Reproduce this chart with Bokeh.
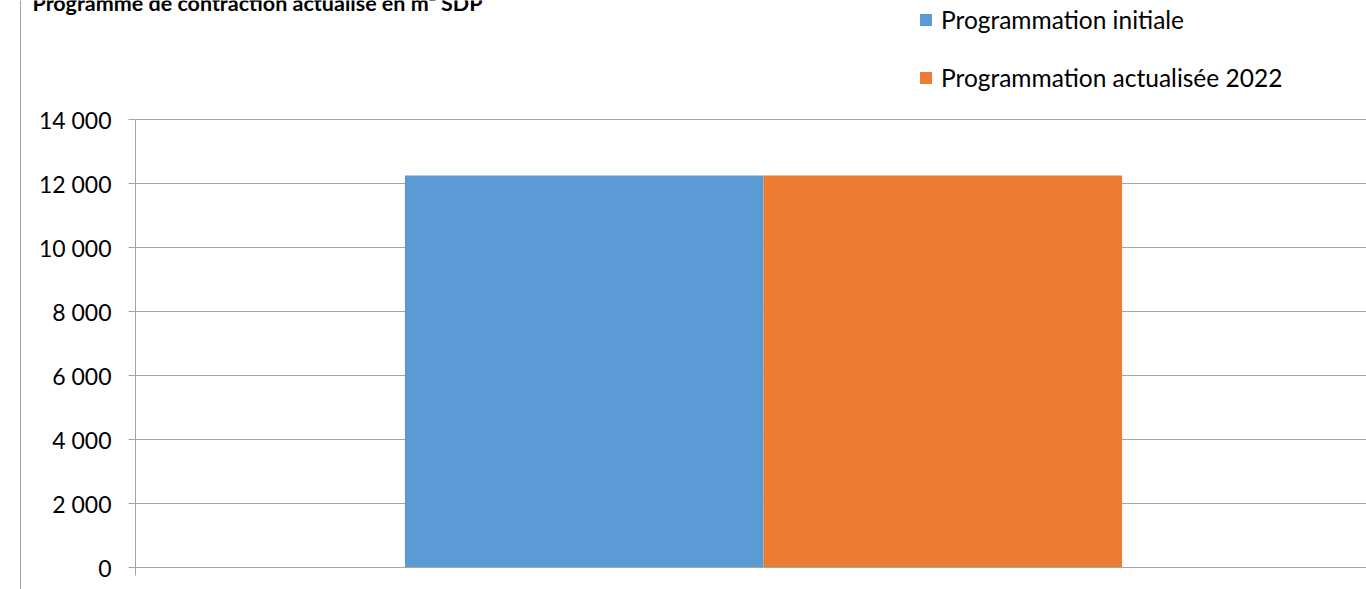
from bokeh.plotting import figure
from bokeh.models import (Range1d, Legend, LegendItem, CustomJSTickFormatter, FixedTicker,
                          Label, Span, BoxAnnotation)
from bokeh.embed import file_html
from bokeh.resources import INLINE

chart_title = "Programme de contraction actualisé en m² SDP"
categories = ["SDP"]
series_names = ["Programmation initiale", "Programmation actualisée 2022"]
prog_initiale = [12250]
prog_actualisee = [12250]
y_ticks = [0, 2000, 4000, 6000, 8000, 10000, 12000, 14000]
colors = ["#5B9BD5", "#ED7D31"]

GRID = "#a6a6a6"
FONT = "Lato"

# pixel geometry -> data ranges (category slot = 1 unit)
W, H = 1366, 589
X0, SLOT = 135, 1256          # px of slot start, px per slot
Y0, PPU = 567, 448 / 14000    # px of value 0, px per unit
xr = Range1d(-X0 / SLOT, (W - X0) / SLOT)
yr = Range1d(-(H - Y0) / PPU, Y0 / PPU)

p = figure(width=W, height=H, output_backend="svg", toolbar_location=None,
           x_range=xr, y_range=yr, min_border=0,
           min_border_left=0, min_border_right=0, min_border_top=0, min_border_bottom=0)
p.outline_line_color = None
p.background_fill_color = "white"
p.border_fill_color = "white"

xc = [i + 0.5 for i in range(len(categories))]
w = 0.2855
r1 = p.vbar(x=[x - w / 2 for x in xc], top=prog_initiale, width=w, color=colors[0], line_color=None)
r2 = p.vbar(x=[x + w / 2 for x in xc], top=prog_actualisee, width=w, color=colors[1], line_color=None)

# grid
p.xgrid.grid_line_color = None
p.ygrid.ticker = FixedTicker(ticks=y_ticks)
p.ygrid.grid_line_color = GRID
mask = BoxAnnotation(right=0, fill_color="white", fill_alpha=1, line_color=None, level="underlay")
p.add_layout(mask)

# axes at fixed positions inside the frame
p.xaxis.fixed_location = 0
p.xaxis.bounds = (0, xr.end)
p.xaxis.ticker = FixedTicker(ticks=[0])
p.xaxis.major_label_text_font_size = "0px"
p.xaxis.major_label_text_color = None
p.xaxis.axis_line_color = GRID
p.xaxis.major_tick_line_color = GRID
p.xaxis.major_tick_out = 8
p.xaxis.major_tick_in = 0
p.xaxis.minor_tick_line_color = None

p.yaxis.fixed_location = 0
p.yaxis.bounds = (0, 14000)
p.yaxis.ticker = FixedTicker(ticks=y_ticks)
p.yaxis.formatter = CustomJSTickFormatter(code="return String(Math.round(tick)).replace(/\\B(?=(\\d{3})+(?!\\d))/g, ' ');")
p.yaxis.axis_line_color = GRID
p.yaxis.major_tick_line_color = GRID
p.yaxis.major_tick_out = 7
p.yaxis.major_tick_in = 0
p.yaxis.minor_tick_line_color = None
p.yaxis.major_label_text_font = FONT
p.yaxis.major_label_text_font_size = "23px"
p.yaxis.major_label_text_color = "black"
p.yaxis.major_label_standoff = 17

# chart border on the left
p.add_layout(Span(location=(20 - X0) / SLOT, dimension="height", line_color=GRID, line_width=1))

legend = Legend(items=[LegendItem(label=series_names[0], renderers=[r1]),
                       LegendItem(label=series_names[1], renderers=[r2])],
                location=(918, H - 92), orientation="vertical",
                label_text_font=FONT, label_text_font_size="24.5px", label_text_color="black",
                glyph_width=15, glyph_height=15, label_height=25, label_standoff=8, spacing=29,
                padding=0, margin=0, border_line_color=None, background_fill_alpha=0)
p.add_layout(legend, "center")

title = Label(x=(32 - X0) / SLOT, y=(Y0 - 2) / PPU, text=chart_title,
              text_font=FONT, text_font_style="bold", text_font_size="21.5px", text_color="black",
              text_baseline="alphabetic")
p.add_layout(title)

open("out.html", "w").write(file_html(p, INLINE))
